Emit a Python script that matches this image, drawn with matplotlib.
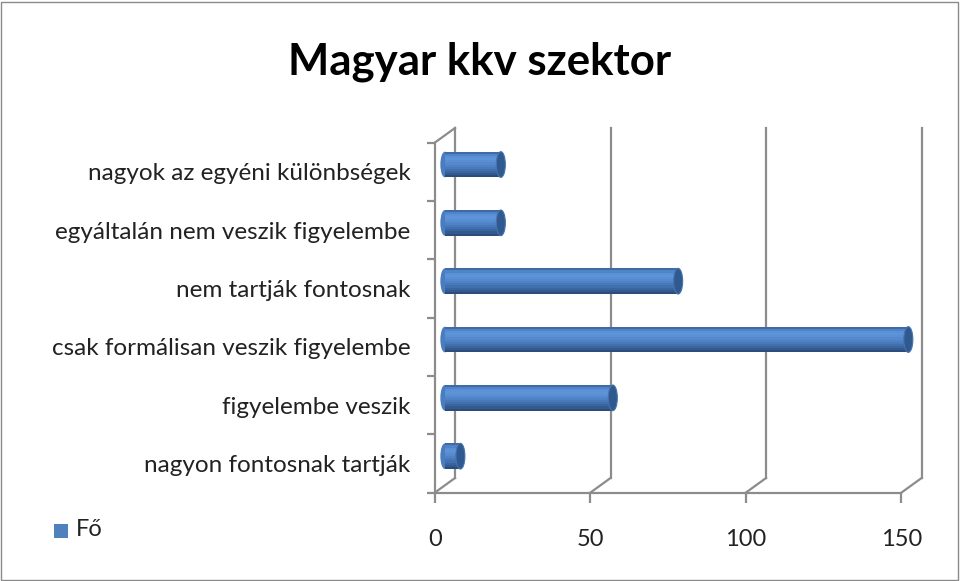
import matplotlib
matplotlib.use("Agg")
import matplotlib.pyplot as plt
import matplotlib.transforms as mtransforms
from matplotlib.patches import Ellipse, Rectangle
from matplotlib.lines import Line2D
import numpy as np

categories = ["nagyon fontosnak tartják", "figyelembe veszik",
              "csak formálisan veszik figyelembe", "nem tartják fontosnak",
              "egyáltalán nem veszik figyelembe", "nagyok az egyéni különbségek"]
values = [5, 54, 149, 75, 18, 18]
xticks = [0, 50, 100, 150]
series_name = "Fő"
title = "Magyar kkv szektor"

plt.rcParams['font.family'] = ['Lato', 'DejaVu Sans']
DPI = 100
fig = plt.figure(figsize=(9.6, 5.81), dpi=DPI)
W, H = 960, 581
# front plane
x0, x1 = 434.7, 901.3
yb, yt = 492.7, 142.7
ax = fig.add_axes([x0 / W, (H - yb) / H, (x1 - x0) / W, (yb - yt) / H])
n = len(categories)
ax.set_xlim(0, 150)
ax.set_ylim(-0.5, n - 0.5)
for s in ax.spines.values():
    s.set_visible(False)
ax.patch.set_alpha(0)

grey = "#8c8c8c"
txtc = "#222222"
lw = 1.6
dx, dy = 20.3, 14.7
back = mtransforms.offset_copy(ax.transData, fig, x=dx, y=dy, units='dots')
mid = mtransforms.offset_copy(ax.transData, fig, x=dx / 2, y=dy / 2, units='dots')

ylo, yhi = -0.5, n - 0.5
# back wall gridlines
for xv in xticks:
    ax.plot([xv, xv], [ylo, yhi], color=grey, lw=lw, transform=back, clip_on=False, zorder=1)
# floor diagonals and wall top diagonal
def diag(xv, yv):
    p0 = ax.transData.transform((xv, yv))
    p1 = back.transform((xv, yv))
    fig.add_artist(Line2D([p0[0] / W, p1[0] / W], [p0[1] / H, p1[1] / H],
                          color=grey, lw=lw, transform=fig.transFigure))
for xv in xticks:
    diag(xv, ylo)
diag(0, yhi)
# front axes lines
ax.plot([0, 0], [ylo, yhi], color=grey, lw=lw, clip_on=False, zorder=2)
ax.plot([0, 150], [ylo, ylo], color=grey, lw=lw, clip_on=False, zorder=2)

# ticks
ax.set_xticks(xticks)
ax.tick_params(axis='x', length=7, width=lw, color=grey, direction='out', pad=19,
               labelsize=17, labelcolor=txtc)
pos = np.arange(n)
ax.set_yticks(pos)
ax.set_yticklabels(categories)
ax.tick_params(axis='y', which='major', length=0, pad=17.5, labelsize=17.5, labelcolor=txtc)
ax.set_yticks(np.arange(n + 1) - 0.5, minor=True)
ax.tick_params(axis='y', which='minor', length=6, width=lw, color=grey, direction='out')

# cylinders: stacked slices (top to bottom), each covering down to bar bottom
h = 0.44
shades = ["#3f6aa6", "#5084c9", "#5a90d5", "#5d93d8", "#5a8fd4", "#5589cd",
          "#4f82c5", "#4879bb", "#4170ae", "#3a659f", "#33598e", "#2c4d7c"]
ns = len(shades)
capw = 9.0 / ((x1 - x0) / 150)
for yi, v in zip(pos, values):
    bottom = yi - h / 2
    ax.add_patch(Ellipse((0, yi), capw, h, facecolor="#4a7dbf", edgecolor='none',
                         transform=mid, zorder=2.9, clip_on=False))
    for k, c in enumerate(shades):
        top = yi + h / 2 - k * h / ns
        ax.barh(bottom, v, height=top - bottom, left=0, align='edge', color=c,
                transform=mid, zorder=3, linewidth=0, clip_on=False)
    ax.add_patch(Ellipse((v, yi), capw, h, facecolor="#30598f", edgecolor="#4573ad",
                         lw=0.8, transform=mid, zorder=4, clip_on=False))

fig.text(0.5, 1 - 62 / H, title, ha='center', va='center', fontsize=31.5,
         fontweight='bold', color='black')
# legend
fig.patches.append(Rectangle((54 / W, 1 - 538 / H), 14 / W, 14 / H, transform=fig.transFigure,
                             facecolor="#4f81bd", edgecolor='none', figure=fig))
fig.text(76 / W, 1 - 530 / H, series_name, ha='left', va='center', fontsize=17, color=txtc)
fig.patches.append(Rectangle((1 / W, 1 / H), 957 / W, 578 / H, transform=fig.transFigure,
                             facecolor='none', edgecolor='#8a8a8a', lw=1, figure=fig))
fig.savefig("out.png", dpi=DPI)
